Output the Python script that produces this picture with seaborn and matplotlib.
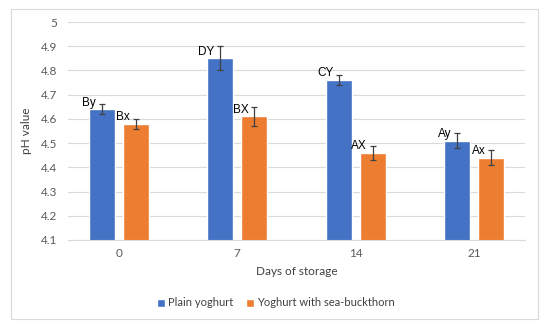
import numpy as np
import pandas as pd
import seaborn as sns
import matplotlib.pyplot as plt
from matplotlib.patches import Rectangle

days = ["0", "7", "14", "21"]
groups = ["Plain yoghurt", "Yoghurt with sea-buckthorn"]
plain_ph = [4.64, 4.85, 4.76, 4.51]
buckthorn_ph = [4.58, 4.61, 4.46, 4.44]
plain_err = [0.02, 0.05, 0.02, 0.03]
buckthorn_err = [0.02, 0.04, 0.03, 0.03]
plain_labels = ["By", "DY", "CY", "Ay"]
buckthorn_labels = ["Bx", "BX", "AX", "Ax"]

df = pd.DataFrame({
    "day": days * 2,
    "group": [groups[0]] * 4 + [groups[1]] * 4,
    "ph": plain_ph + buckthorn_ph,
})

sns.set_style("white")
plt.rcParams["font.family"] = ["Lato", "DejaVu Sans"]

fig = plt.figure(figsize=(5.5, 3.29), dpi=100)
ax = fig.add_axes([68 / 550, 1 - 240 / 329, (525 - 68) / 550, (240 - 22) / 329])

sns.barplot(data=df, x="day", y="ph", hue="group", order=days, hue_order=groups,
            palette=["#4472C4", "#ED7D31"], width=0.57, gap=0.23, ax=ax,
            errorbar=None, legend=True, saturation=1)

errs = [plain_err, buckthorn_err]
labels = [plain_labels, buckthorn_labels]
vals = [plain_ph, buckthorn_ph]
bar_groups = list(ax.containers)
for k, cont in enumerate(bar_groups):
    for i, bar in enumerate(cont):
        cx = bar.get_x() + bar.get_width() / 2
        ax.errorbar(cx, vals[k][i], yerr=errs[k][i], color="#404040", lw=0.9,
                    capsize=2.5, capthick=0.9, zorder=5)
        ax.annotate(labels[k][i], (cx, vals[k][i]), xytext=(-4, 0.5),
                    textcoords="offset points", ha="right", va="bottom",
                    fontsize=8.5, family="Liberation Sans", color="#000000")

ax.set_ylim(4.1, 5.0)
ax.set_yticks(np.arange(4.1, 5.01, 0.1))
ax.set_yticklabels([f"{v:g}" for v in np.round(np.arange(4.1, 5.01, 0.1), 1)])
ax.yaxis.grid(True, color="#D9D9D9", lw=0.8)
ax.set_axisbelow(True)
for s in ["top", "right", "left"]:
    ax.spines[s].set_visible(False)
ax.spines["bottom"].set_color("#D9D9D9")
ax.tick_params(axis="both", length=0, labelsize=8.5, colors="#595959", pad=6)
ax.tick_params(axis="y", pad=8)
ax.set_xlabel("Days of storage", fontsize=8.5, color="#404040", labelpad=5)
ax.set_ylabel("pH value", fontsize=8.5, color="#404040", labelpad=6)

handles, lbls = ax.get_legend_handles_labels()
ax.get_legend().remove()
fig.legend(handles, lbls, loc="center", bbox_to_anchor=(276 / 550, 1 - 303 / 329),
           ncol=2, frameon=False, fontsize=8, handlelength=0.7, handleheight=0.7,
           handletextpad=0.3, columnspacing=1.2, labelcolor="#404040")

fig.patches.append(Rectangle((11 / 550, 1 - 319 / 329), (538 - 11) / 550, (319 - 9) / 329,
                             transform=fig.transFigure, fill=False, ec="#D9D9D9", lw=0.8))

fig.savefig("out.png", dpi=100)
